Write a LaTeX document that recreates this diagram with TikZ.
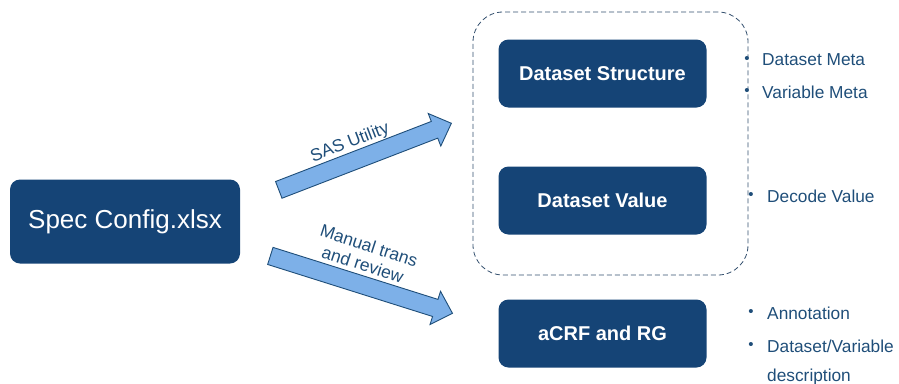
\documentclass[tikz,border=0pt]{standalone}
\usepackage{fontspec}
\setmainfont{Liberation Sans}
\usetikzlibrary{shapes.arrows}
\definecolor{boxblue}{HTML}{154476}
\definecolor{txtblue}{HTML}{1F4E79}
\definecolor{arrfill}{HTML}{7DB0E8}
\definecolor{dashcol}{HTML}{34506E}
\tikzset{
  darkbox/.style={draw=none, fill=boxblue, rounded corners=10pt, text=white, font=\fontsize{20}{24}\selectfont\bfseries, minimum width=208pt, minimum height=68pt},
  blockarrow/.style={single arrow, draw=txtblue, fill=arrfill, line width=0.9pt, inner xsep=0pt, inner ysep=8.5pt, single arrow head extend=8.5pt, single arrow tip angle=88},
  arrlabel/.style={text=txtblue, font=\fontsize{17.5}{20}\selectfont, align=center},
  bullettext/.style={text=txtblue, font=\fontsize{17.3}{20}\selectfont, anchor=west, inner sep=0pt},
  bulletdot/.style={text=txtblue, font=\fontsize{15}{16}\selectfont, anchor=center, inner sep=0pt}
}
\begin{document}
\begin{tikzpicture}[x=1pt,y=-1pt]
\useasboundingbox (0,0) rectangle (899,383);
% source box
\node[darkbox, minimum width=230pt, minimum height=84pt, font=\fontsize{26}{30}\selectfont] (spec) at (125,221.5) {Spec Config.xlsx};
% dashed group
\node[draw=dashcol, dash pattern=on 5pt off 3pt, line width=0.8pt, rounded corners=30pt, minimum width=275pt, minimum height=263pt] (group) at (610.5,143.5) {};
% target boxes
\node[darkbox] (struct) at (602.5,73.5) {Dataset Structure};
\node[darkbox] (value) at (602.5,200.5) {Dataset Value};
\node[darkbox] (acrf) at (602.5,333.5) {aCRF and RG};
% block arrows
\node[blockarrow, minimum height=185pt, rotate=21.1] (arr1) at (360.75,158.25) {};
\node[blockarrow, minimum height=191pt, rotate=-17.5] (arr2) at (357,283.25) {};
% arrow labels
\node[arrlabel, rotate=21, inner sep=0pt] (lab1) at (350,143) {SAS Utility};
\node[arrlabel, rotate=-18, inner sep=0pt] (lab2) at (366,255) {Manual trans\\and review};
% bullets
\node[bulletdot] (b1) at (747,60) {•};
\node[bullettext] (t1) at (762,60) {Dataset Meta};
\node[bulletdot] (b2) at (747,92) {•};
\node[bullettext] (t2) at (762,92) {Variable Meta};
\node[bulletdot] (b3) at (751,196) {•};
\node[bullettext] (t3) at (767,196) {Decode Value};
\node[bulletdot] (b4) at (751,313) {•};
\node[bullettext] (t4) at (767,313) {Annotation};
\node[bulletdot] (b5) at (751,346) {•};
\node[bullettext] (t5) at (767,346) {Dataset/Variable};
\node[bullettext] (t6) at (767,377) {description};
\end{tikzpicture}
\end{document}
